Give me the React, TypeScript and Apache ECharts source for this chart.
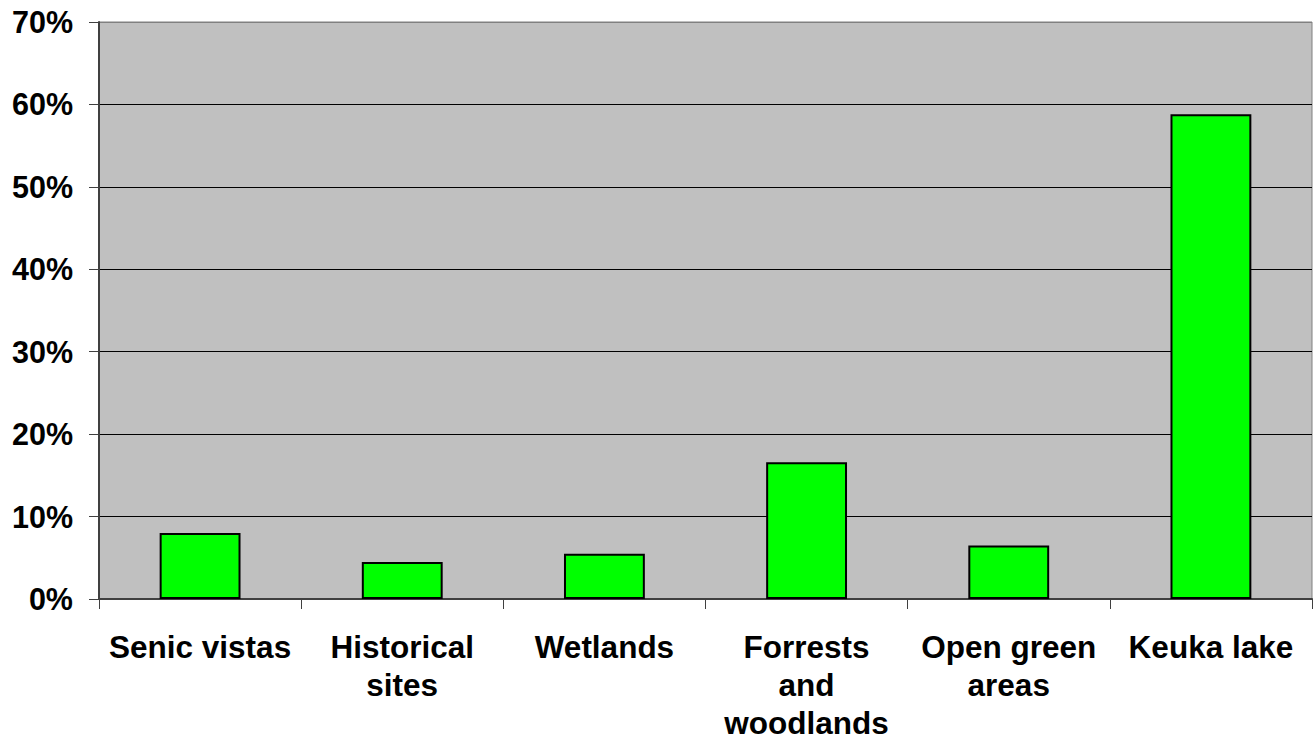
import React, { useEffect, useRef } from "react";
import * as echarts from "echarts";

const categories = [
  "Senic vistas",
  "Historical\nsites",
  "Wetlands",
  "Forrests\nand\nwoodlands",
  "Open green\nareas",
  "Keuka lake",
];
const values = [0.08, 0.045, 0.055, 0.166, 0.065, 0.588];
const yTicks = [0, 0.1, 0.2, 0.3, 0.4, 0.5, 0.6, 0.7];

const FONT = '"Liberation Sans", Arial, sans-serif';

export default function App() {
  const ref = useRef<HTMLDivElement>(null);
  useEffect(() => {
    if (!ref.current) return;
    const chart = echarts.init(ref.current, null, { renderer: "svg" });
    chart.setOption({
      animation: false,
      grid: {
        left: 99,
        right: 2,
        top: 22,
        bottom: 143,
        outerBoundsMode: "none",
        containLabel: false,
        show: true,
        backgroundColor: "#c0c0c0",
        borderColor: "#808080",
        borderWidth: 1,
      },
      xAxis: {
        type: "category",
        data: categories,
        axisLine: { show: true, lineStyle: { color: "#404040", width: 2 } },
        axisTick: { show: true, length: 10, inside: false, lineStyle: { color: "#404040" } },
        axisLabel: {
          interval: 0,
          margin: 29,
          color: "#000",
          fontFamily: FONT,
          fontWeight: "bold",
          fontSize: 31.5,
          lineHeight: 38,
        },
      },
      yAxis: {
        type: "value",
        min: yTicks[0],
        max: yTicks[yTicks.length - 1],
        interval: 0.1,
        axisLine: { show: true, lineStyle: { color: "#404040", width: 2 } },
        axisTick: { show: true, length: 10, lineStyle: { color: "#404040" } },
        axisLabel: {
          margin: 26,
          color: "#000",
          fontFamily: FONT,
          fontWeight: "bold",
          fontSize: 30.5,
          formatter: (v: number) => Math.round(v * 100) + "%",
        },
        splitLine: {
          show: true,
          lineStyle: {
            color: ["#000", "#000", "#000", "#000", "#000", "#000", "#000", "#808080"],
            width: 1,
          },
        },
      },
      series: [
        {
          type: "bar",
          data: values,
          barWidth: "40%",
          itemStyle: { color: "#00ff00", borderColor: "#000", borderWidth: 2 },
        },
      ],
    });
    return () => chart.dispose();
  }, []);
  return (
    <div
      ref={ref}
      style={{ position: "fixed", left: 0, top: 0, width: 1314, height: 742, background: "#fff" }}
    />
  );
}
